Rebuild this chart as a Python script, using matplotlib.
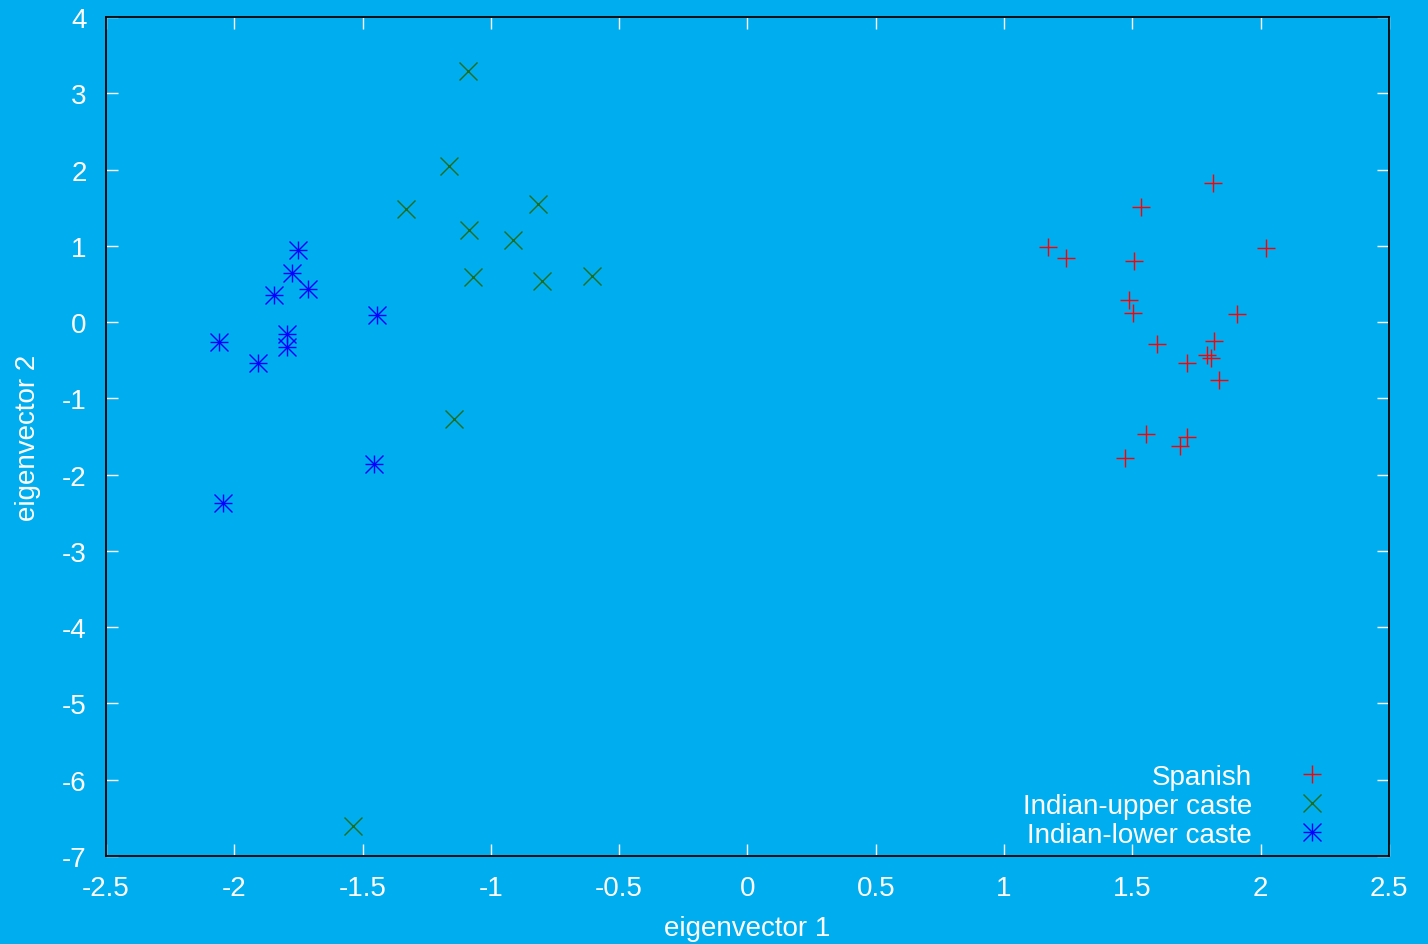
import matplotlib
matplotlib.use("Agg")
import matplotlib.pyplot as plt
from matplotlib.ticker import FuncFormatter, MultipleLocator

plt.rcParams['font.family'] = ['Liberation Sans', 'DejaVu Sans']
plt.rcParams['axes.unicode_minus'] = False

# values
spanish_x = [1.813, 1.534, 1.170, 1.241, 1.506, 2.021, 1.488, 1.502, 1.906, 1.595,
             1.818, 1.792, 1.805, 1.713, 1.838, 1.553, 1.712, 1.687, 1.470]
spanish_y = [1.82, 1.504, 0.981, 0.843, 0.805, 0.966, 0.290, 0.115, 0.102, -0.283,
             -0.244, -0.427, -0.467, -0.536, -0.755, -1.463, -1.506, -1.624, -1.786]

upper_x = [-1.090, -1.163, -1.331, -0.818, -1.084, -0.915, -1.069, -0.801, -0.607, -1.144, -1.537]
upper_y = [3.295, 2.047, 1.483, 1.552, 1.211, 1.072, 0.595, 0.534, 0.599, -1.273, -6.60]

lower_x = [-1.751, -1.775, -1.714, -1.845, -1.443, -1.793, -1.793, -2.060, -1.906, -1.454, -2.044]
lower_y = [0.940, 0.648, 0.429, 0.351, 0.097, -0.156, -0.322, -0.257, -0.536, -1.865, -2.376]

bg = '#00aeef'
fig = plt.figure(figsize=(14.28, 9.45), dpi=100, facecolor=bg)
ax = fig.add_axes([0.0742, 0.0931, 0.8985, 0.8879], facecolor=bg)

ms = 12.5
h1, = ax.plot(spanish_x, spanish_y, ls='none', marker='+', ms=ms, mew=1.0, color='#ff0000')
h2, = ax.plot(upper_x, upper_y, ls='none', marker='x', ms=ms, mew=1.0, color='#1e6e1e')
# gnuplot-style asterisk: plus and cross on top of each other
h3a, = ax.plot(lower_x, lower_y, ls='none', marker='+', ms=ms, mew=1.0, color='#0000ff')
h3b, = ax.plot(lower_x, lower_y, ls='none', marker='x', ms=ms, mew=1.0, color='#0000ff')

ax.set_xlim(-2.5, 2.5)
ax.set_ylim(-7, 4)
ax.xaxis.set_major_locator(MultipleLocator(0.5))
ax.yaxis.set_major_locator(MultipleLocator(1))
fmt = FuncFormatter(lambda v, p: '%g' % v)
ax.xaxis.set_major_formatter(fmt)
ax.yaxis.set_major_formatter(fmt)

ax.tick_params(direction='in', length=8.5, width=1, color='white', labelcolor='white',
               labelsize=20, top=True, right=True)
ax.tick_params(axis='x', pad=14)
ax.tick_params(axis='y', pad=14)
for s in ax.spines.values():
    s.set_color('black')
    s.set_linewidth(1.3)

ax.set_xlabel('eigenvector 1', fontsize=20, color='white', labelpad=10)
ax.set_ylabel('eigenvector 2', fontsize=20, color='white', labelpad=15)

leg = ax.legend([h1, h2, (h3a, h3b)], ['Spanish', 'Indian-upper caste', 'Indian-lower caste'],
                loc='lower right', bbox_to_anchor=(0.968, 0.0), markerfirst=False,
                frameon=False, fontsize=20, labelspacing=0.1, handletextpad=1.15,
                handlelength=2.0, borderaxespad=0.0, borderpad=0.3)
for t in leg.get_texts():
    t.set_color('white')

fig.savefig('out.png', dpi=100, facecolor=bg)
